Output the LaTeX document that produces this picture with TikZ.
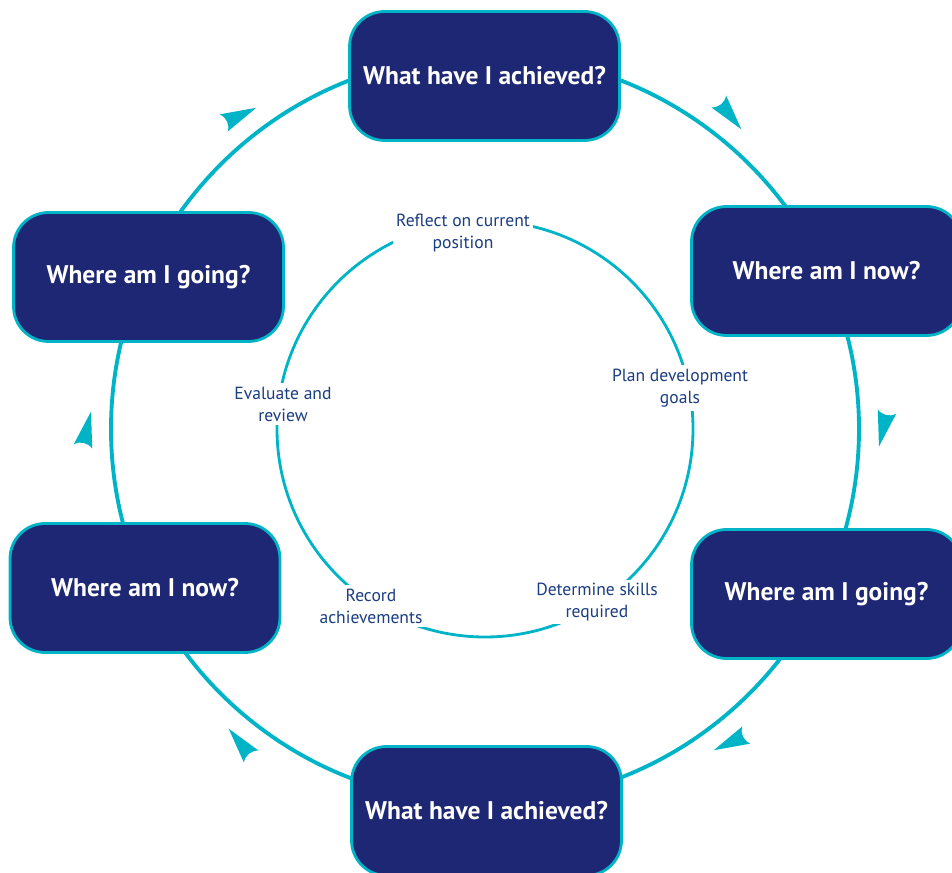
\documentclass[tikz,border=0pt]{standalone}
\usepackage{fontspec}
\setmainfont{PT Sans}
\definecolor{navy}{RGB}{30,39,115}
\definecolor{aqua}{RGB}{0,180,200}

\begin{document}
\begin{tikzpicture}
[x=0.02cm,y=0.02cm,
   qbox/.style={draw=aqua,line width=1.6pt,fill=navy,rounded corners=0.7cm,
     minimum width=5.4cm,minimum height=2.58cm,text=white,
     font=\fontsize{14.5}{17}\selectfont\bfseries},
   lbl/.style={fill=white,align=center,text=navy!90!cyan,inner sep=2pt,
     font=\fontsize{10}{12.5}\selectfont}]
\useasboundingbox (0,0) rectangle (952,872);
\clip (0,0) rectangle (952,872);

\coordinate (c) at (485,443);

% outer cycle with its arrow heads
\draw[aqua,line width=2.2pt] (c) circle (374);
\foreach \a in {0,52,128,180,232,308}
  \fill[aqua,shift={(485,443)},rotate=\a,shift={(398,0)},rotate=-103]
    (18,0) -- (-18,9.5) .. controls (-13,4) and (-13,-4) .. (-18,-9.5) -- cycle;

% inner cycle
\draw[aqua,line width=1.6pt] (c) circle (208);
\node[lbl] (refl) at (463,639) {Reflect on current\\position};
\node[lbl] (plan) at (680,484) {Plan development\\goals};
\node[lbl] (det)  at (597,270) {Determine skills\\required};
\node[lbl] (rec)  at (371,266) {Record\\achievements};
\node[lbl] (eval) at (283,468) {Evaluate and\\review};

% question boxes
\node[qbox] (ach1)  at (484.5,796) {What have I achieved?};
\node[qbox] (now1)  at (826.5,601) {Where am I now?};
\node[qbox] (go1)   at (826.5,278) {Where am I going?};
\node[qbox] (ach2)  at (486.5,61)  {What have I achieved?};
\node[qbox] (now2)  at (145,284)   {Where am I now?};
\node[qbox] (go2)   at (148.5,595) {Where am I going?};
\end{tikzpicture}
\end{document}
